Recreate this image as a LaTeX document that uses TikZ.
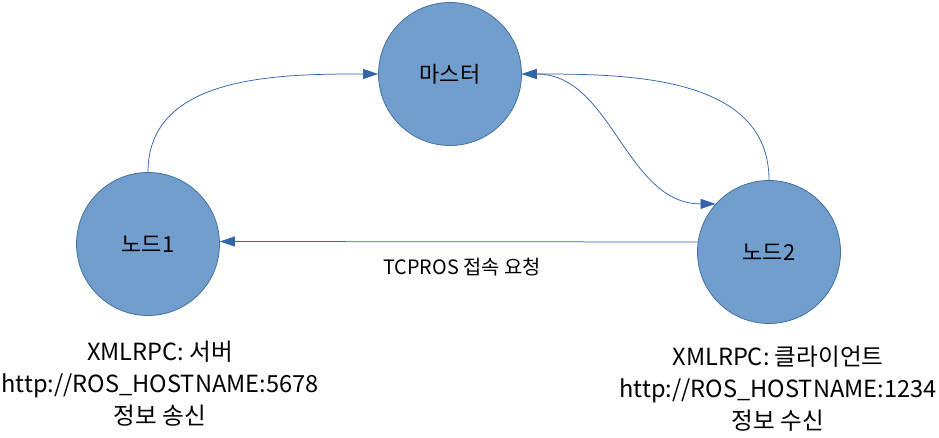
\documentclass[tikz,border=0pt]{standalone}
\usepackage{fontspec}
\setmainfont{Noto Sans CJK KR}
\usetikzlibrary{arrows.meta}
\definecolor{nodefill}{RGB}{114, 158, 206}
\definecolor{nodeline}{RGB}{66, 112, 160}
\definecolor{edgecol}{RGB}{52, 100, 170}

\begin{document}
\begin{tikzpicture}[x=1pt, y=1pt,
every node/.style={inner sep=0pt},
rosnode/.style={circle, minimum size=143pt, fill=nodefill, draw=nodeline, line width=0.8pt, font=\fontsize{22}{26}\selectfont},
link/.style={line width=0.75pt, color=edgecol, -{Triangle[length=15pt, width=10pt]}},
infotext/.style={align=center, font=\fontsize{23.6}{32}\selectfont}]
\useasboundingbox (0,0) rectangle (939,-438);
\node (master) [rosnode] at (450pt, -74pt) {마스터};
\node (node1) [rosnode] at (148pt, -244pt) {노드1};
\node (node2) [rosnode] at (769pt, -252pt) {노드2};
\node (tcpros) [font=\fontsize{19.8}{22}\selectfont] at (462pt, -267pt) {TCPROS 접속 요청};
\node (info1) [infotext] at (160pt, -384pt) {XMLRPC: 서버\\http://ROS\_HOSTNAME:5678\\정보 송신};
\node (info2) [infotext] at (778pt, -389pt) {XMLRPC: 클라이언트\\http://ROS\_HOSTNAME:1234\\정보 수신};
\draw [link] (node1.north) to[out=90, in=180] (master.west);
\draw [link] (node2.north) to[out=90, in=0] (master.east);
\draw [link, {Triangle[length=15pt, width=10pt]}-{Triangle[length=15pt, width=10pt]}] (master.east) .. controls +(90pt, 0pt) and +(-90pt, 0pt) .. (node2.138);
\draw [link] (node2.172) -- (node1.2);
\end{tikzpicture}
\end{document}
